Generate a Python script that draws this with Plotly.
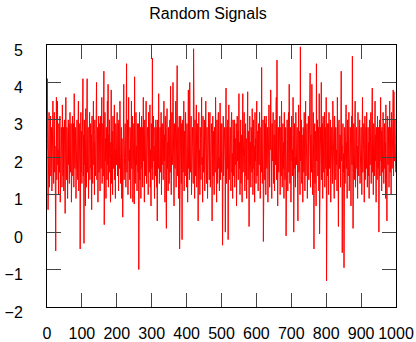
import plotly.graph_objects as go

title_text = "Random Signals"
x_ticks = [0, 100, 200, 300, 400, 500, 600, 700, 800, 900, 1000]
y_ticks = [-2, -1, 0, 1, 2, 3, 4, 5]

signal = [
    2.2, 4.1, 2.5, 0.6, 1.8, 2.9, 3.2, 1.2, 2.7, 1.9, 3.1, 1.5, 2.4, 2.8, 1.1, 2.6, 1.7, 3.5, 2.0, 1.3, 2.8, 3.2, 1.6, 2.3, 1.0,
    -0.5, 2.1, 3.6, 1.4, 2.9, 3.5, 1.8, 2.2, 1.0, 2.9, 2.5, 1.6, 3.1, 0.8, 2.7, 1.9, 2.8, 2.3, 1.2, 3.4, 2.0, 1.5, 2.8, 1.1, 2.4,
    3.0, 1.7, 0.5, 2.6, 3.6, 2.1, 1.4, 2.8, 2.5, 0.9, 2.2, 3.0, 1.8, 2.9, 1.3, 2.4, 3.2, 1.6, 2.0, 2.9, 0.8, 2.7, 1.9, 3.1, 1.5,
    2.3, 2.9, 1.2, 3.7, 2.1, 1.7, 2.6, 2.8, 0.9, 2.4, 1.8, 3.0, 2.0, 1.4, 2.8, 3.5, 1.1, 2.5, 1.9, 2.9, -0.45, 2.2, 3.2, 1.6, 2.7,
    1.3, 2.9, 2.0, 4.1, 1.5, 2.6, -0.3, 3.0, 1.8, 2.4, 0.7, 3.3, 2.1, 1.2, 2.8, 4.1, 1.6, 2.3, 2.8, 0.9, 2.5, 1.9, 3.2, 1.4, 2.2,
    2.9, 1.7, 2.6, 0.6, 3.1, 2.0, 1.3, 2.9, 3.5, 1.8, 2.4, 1.0, 3.0, 2.1, 1.5, 2.7, 1.9, 4.0, 1.4, 2.5, 2.8, 0.8, 2.3, 3.1, 1.6,
    2.2, 2.9, 1.1, 3.1, 2.0, 1.7, 2.6, 3.6, 1.3, 2.4, 2.9, 1.5, 2.8, 4.3, 0.2, 2.1, 3.2, 1.9, 2.5, 0.9, 2.8, 2.2, 1.4, 3.5, 1.8,
    3.95, 1.2, 2.6, 2.0, 3.0, 1.6, 2.4, 0.8, 2.9, 3.8, 1.3, 2.1, 2.7, 1.0, 3.1, 2.3, 1.7, 2.8, 3.4, 1.4, 2.2, 0.9, 2.9, 2.5, 1.8,
    2.6, 3.2, 1.5, 2.0, 2.9, 1.1, 3.0, 2.4, 1.7, 3.5, 2.1, 1.3, 2.8, 2.8, 0.9, 2.5, 1.9, 0.4, 3.1, 2.2, 3.95, 1.4, 2.7, 1.8, 2.9,
    2.0, 1.2, 2.9, 4.5, 1.6, 2.4, 3.0, 1.0, 2.6, 3.6, 1.9, 2.2, 1.4, 2.8, 2.5, 0.9, 2.8, 3.5, 1.7, 2.1, 3.1, 0.8, 2.4, 1.5, 2.9,
    0.75, 4.15, 2.0, 1.3, 2.7, 3.2, 1.8, 2.3, 1.1, 2.9, 2.6, 1.6, 2.9, -1.0, 2.2, 3.2, 1.4, 2.5, 2.8, 0.9, 2.1, 3.1, 1.7, 2.8, 1.2,
    2.4, 3.6, 1.9, 2.6, 0.8, 3.0, 2.0, 1.5, 2.9, 3.5, 1.3, 2.3, 1.8, 2.8, 2.5, 1.0, 3.2, 2.1, 1.6, 2.7, 3.4, 1.2, 2.2, 0.7, 2.9,
    2.0, 1.7, 4.65, 1.4, 2.6, 3.1, 1.9, 2.3, 0.9, 2.8, 2.5, 1.5, 3.0, 2.1, 1.2, 2.8, 0.3, 3.0, 2.4, 1.7, 3.7, 2.0, 1.3, 2.7, 2.8,
    1.6, 2.2, 3.2, 1.0, 2.9, 1.8, 2.5, 2.9, 1.4, 2.1, 3.5, 1.9, 2.6, 0.8, 3.1, 2.3, 1.5, 0.1, 2.8, 3.3, 1.7, 2.4, 1.1, 2.8, 2.0,
    1.3, 2.7, 3.0, 1.6, 3.9, 2.2, 1.0, 2.5, 3.2, 1.8, 2.1, 4.0, 1.4, 2.9, 0.7, 2.9, 2.3, 1.7, 2.6, 3.5, 1.2, 2.0, 2.8, 4.45, 1.5,
    2.4, 2.8, 0.9, 2.2, 3.1, -0.45, 2.6, 1.8, 3.1, 2.1, 1.3, 2.9, -0.2, 2.5, 3.0, 1.6, 2.0, 3.5, 1.1, 2.7, 2.3, 1.5, 3.2, 1.9, 2.8,
    1.2, 2.9, 2.4, 0.8, 2.6, 3.8, 1.7, 2.2, 1.4, 4.0, 2.0, 1.6, 2.9, 3.1, 1.0, 2.5, 1.9, 2.8, 2.3, 1.3, 4.9, 1.8, 2.7, 0.9, 3.0,
    2.1, 1.5, 2.8, 3.4, 1.2, 2.4, 1.9, 2.9, 0.3, 2.6, 3.2, 1.7, 2.2, 1.0, 2.8, 2.5, 1.4, 2.9, 3.6, 1.8, 2.0, 0.8, 3.1, 2.3, 1.6,
    2.7, 3.0, 1.1, 2.4, 1.9, 3.5, 2.1, 1.3, 2.8, 2.8, 0.9, 2.5, 1.7, 3.2, 2.2, 1.4, 2.9, 3.2, 1.2, 2.3, 1.8, 2.9, 2.6, 0.3, 2.0,
    3.1, 1.5, 2.7, 2.1, 1.0, 2.8, 2.4, 1.6, 3.6, 1.9, 2.6, 0.8, 3.0, 2.2, 1.3, 2.8, 3.2, 1.7, 2.0, 1.1, 2.5, 3.45, 1.4, 2.9, 2.3,
    1.6, 2.9, 2.0, -0.35, 2.7, 3.1, 1.5, 2.4, 1.9, 2.8, 2.2, 0.0, 2.6, 3.85, 1.3, 2.1, 2.8, 1.7, 3.0, -0.2, 2.5, 3.4, 1.4, 2.3, 1.8,
    2.8, 2.4, 1.1, 2.9, 3.2, 1.6, 2.1, 0.9, 3.0, 2.6, 1.5, 2.8, 3.0, 1.2, 2.0, 2.5, 1.8, 2.9, 0.7, 2.3, 3.1, 1.9, 2.7, 1.4, 2.2,
    3.7, 1.7, 2.4, 1.0, 2.9, 3.0, 1.3, 2.1, 2.6, 0.8, 2.8, 3.7, 1.6, 2.3, 1.9, 3.2, 2.0, 1.1, 2.8, 2.9, 1.5, 2.5, 0.9, 3.1, 2.2,
    3.75, 1.4, 2.7, 2.0, 0.15, 2.9, 3.1, 1.8, 2.4, 1.2, 2.8, 2.6, 1.6, 3.3, 2.1, 1.0, 2.8, 3.0, 1.7, 2.3, 0.8, 3.2, 1.9, 2.5, 1.3,
    2.9, 3.5, 1.5, 2.2, 2.7, 1.1, 2.9, 2.0, 1.8, 3.2, 2.4, 0.9, 2.6, 2.8, 1.6, 4.4, 2.1, 1.3, 2.8, 3.0, -0.25, 2.5, 1.9, 3.1, 1.4,
    2.3, 2.9, 1.0, 3.1, 2.1, 1.7, 2.6, 2.8, 0.8, 2.4, 1.5, 3.4, 2.0, 1.2, 2.8, 2.2, 3.8, 1.6, 2.5, 0.9, 2.9, 1.9, 2.7, 3.2, 1.3,
    2.0, 2.6, 1.1, 3.0, 2.4, 1.8, 2.9, 3.6, 1.4, 4.6, 2.2, 0.7, 2.7, 2.8, 1.6, 2.3, 1.9, 3.1, 1.0, 2.5, 2.8, 1.5, 3.5, 2.1, 1.2,
    2.9, 2.9, 1.7, 2.4, 0.9, 3.2, 2.0, 1.4, 2.6, 2.8, -0.1, 2.3, 1.8, 3.0, 2.5, 1.1, 2.8, 3.2, 1.6, 3.95, 2.1, 1.3, 2.7, 2.8, 0.8,
    2.4, 3.1, 1.9, 2.2, 1.5, 3.6, 2.6, 0.0, 2.9, 2.9, 1.7, 2.0, 1.2, 3.2, 2.5, 1.8, 2.8, 2.8, 1.4, 0.3, 2.3, 3.4, 1.6, 2.1, 2.7,
    1.0, 4.95, 1.9, 2.4, 3.0, 1.3, 2.6, 2.0, 0.8, 2.8, 2.5, 1.6, 3.2, 2.2, 1.1, 2.8, 3.5, 1.5, 2.3, 1.9, 2.9, 0.9, 2.7, 2.1, 3.1,
    1.4, 2.5, 1.8, 2.8, 4.25, 1.2, 2.6, 2.0, 1.6, 3.95, 2.3, 1.0, 2.9, 3.2, 1.7, -0.45, 2.4, 2.9, 1.3, 2.7, 2.1, 0.7, 4.5, 1.9, 2.5,
    3.0, 1.5, 2.2, 2.8, 1.1, 3.7, -0.05, 2.6, 1.8, 2.8, 2.4, 4.0, 1.4, 2.0, 2.9, 0.9, 3.1, 2.3, 1.6, 2.7, 3.2, 1.2, 2.1, 2.8, 1.7,
    3.6, -1.3, 2.5, 2.9, 1.5, 2.2, 2.9, 1.0, 3.2, 2.0, 1.7, 2.6, 3.0, 0.8, 2.4, 1.9, 2.8, 2.3, 1.3, 3.5, 2.7, 1.6, 2.1, 0.9, 3.1,
    2.5, 1.4, 2.8, 2.8, 1.8, 2.2, 1.1, 3.6, 2.4, 1.5, 0.15, 2.9, 3.0, 1.7, 2.0, 2.6, 1.2, 3.2, 4.3, 1.9, 2.3, -0.55, 2.7, 2.9, 1.6,
    2.1, -0.95, 2.5, 2.8, 1.3, 2.8, 2.0, 3.4, 1.7, 2.4, 0.9, 3.0, 2.2, 1.5, 2.9, 3.2, 1.1, 2.6, 1.9, 2.8, 2.3, 0.7, 2.7, 3.1, 1.8,
    4.7, 1.6, 0.1, 2.4, 2.9, 2.0, 1.4, 2.8, 3.5, 1.2, 2.5, 2.1, 2.8, 1.7, 2.3, 0.9, 3.2, 2.6, 1.5, 2.9, 2.0, 3.0, 1.3, 2.4, 1.8,
    2.8, 2.2, 1.0, 2.7, 3.6, 1.6, 2.3, 1.9, 2.9, 0.8, 2.5, 3.1, 1.4, 2.1, 2.8, 1.7, 3.2, 2.0, 1.2, 2.6, 2.8, 1.5, 2.4, 0.9, 3.0,
    2.2, 1.8, 2.9, 3.2, 1.3, 2.5, 2.0, 3.85, 1.6, 2.3, 1.0, 2.9, 2.7, 1.5, 2.1, 3.5, 1.9, 2.6, 0.8, 2.8, 2.4, 1.4, 3.1, 2.0, 1.7,
    2.8, 0.0, 2.5, 3.0, 1.5, 2.2, 3.6, 1.9, 2.7, 1.1, 2.8, 2.3, 1.6, 3.2, 2.0, 1.3, 2.9, 2.9, 1.7, 2.4, 0.9, 3.4, 2.1, 1.4, 0.3,
    2.6, 3.1, 1.8, 2.2, 2.8, 1.2, 2.5, 3.5, 1.6, 2.0, 2.8, 1.0, 3.2, 2.3, 1.7, 2.9, 2.9, 3.8, 1.5, 3.75, 2.1, 1.9, 3.0, 2.4, 1.6,
]
sample_index = list(range(len(signal)))

fig = go.Figure()
fig.add_trace(go.Scatter(
    x=sample_index, y=signal, mode="lines",
    line=dict(color="#ff0000", width=1),
    showlegend=False, hoverinfo="skip",
))

axis_common = dict(
    showgrid=False, zeroline=False, automargin=False,
    showline=True, linecolor="#000000", linewidth=1, mirror="ticks",
    ticks="inside", ticklen=14, tickwidth=1, tickcolor="#444444",
    tickfont=dict(family="Liberation Sans, Arial, sans-serif", size=16, color="#000000"),
)

fig.update_layout(
    width=416, height=342,
    margin=dict(l=47, r=20, t=45, b=35),
    paper_bgcolor="#ffffff", plot_bgcolor="#ffffff",
    title=dict(
        text=title_text, x=0.5, xanchor="center",
        y=1 - 13 / 342, yanchor="middle", yref="container",
        font=dict(family="Liberation Sans, Arial, sans-serif", size=16, color="#000000"),
    ),
    xaxis=dict(range=[0, 1000], tickvals=x_ticks, tickangle=0,
               ticklabelstandoff=12, **axis_common),
    yaxis=dict(range=[-2, 5], tickvals=y_ticks, ticklabelstandoff=20,
               ticklabelshift=5, **axis_common),
)

fig.write_html("out.html")
